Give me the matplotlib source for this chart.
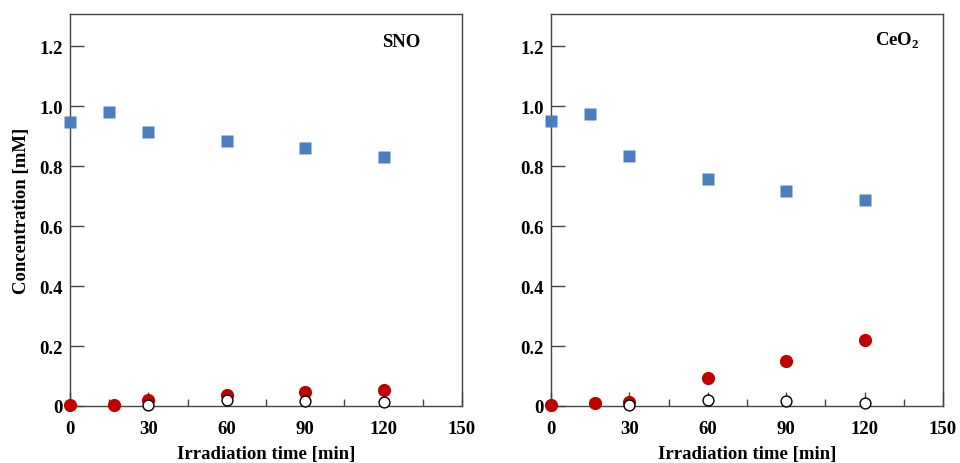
import matplotlib
matplotlib.use("Agg")
import matplotlib.pyplot as plt
from matplotlib.ticker import MultipleLocator

plt.rcParams.update({"font.family": ["Liberation Serif", "DejaVu Serif"],
                     "font.weight": "bold", "mathtext.fontset": "custom",
                     "mathtext.rm": "Liberation Serif", "mathtext.bf": "Liberation Serif:bold"})

# SNO panel
sno_sq_t = [0, 15, 30, 60, 90, 120]
sno_sq_c = [0.948, 0.979, 0.913, 0.882, 0.860, 0.830]
sno_red_t = [0, 17, 30, 60, 90, 120]
sno_red_c = [0.005, 0.005, 0.020, 0.037, 0.048, 0.053]
sno_open_t = [30, 60, 90, 120]
sno_open_c = [0.004, 0.019, 0.016, 0.014]

# CeO2 panel
ceo_sq_t = [0, 15, 30, 60, 90, 120]
ceo_sq_c = [0.950, 0.973, 0.833, 0.757, 0.717, 0.687]
ceo_red_t = [0, 17, 30, 60, 90, 120]
ceo_red_c = [0.005, 0.009, 0.014, 0.093, 0.150, 0.220]
ceo_open_t = [30, 60, 90, 120]
ceo_open_c = [0.004, 0.020, 0.017, 0.011]

panels = [
    ("SNO", (0.845, 0.931), sno_sq_t, sno_sq_c, sno_red_t, sno_red_c, sno_open_t, sno_open_c),
    (r"CeO$_\mathbf{2}$", (0.884, 0.935), ceo_sq_t, ceo_sq_c, ceo_red_t, ceo_red_c, ceo_open_t, ceo_open_c),
]

BLUE = "#4a7ebf"
RED = "#c00000"
AXC = "#444444"
FS = 13.5

fig = plt.figure(figsize=(9.6, 4.64), dpi=100)
lefts = [70 / 960, 551 / 960]
for (name, pos, st, sc, rt, rc, ot, oc), left in zip(panels, lefts):
    ax = fig.add_axes([left, 57 / 464, 392 / 960, 392 / 464])
    ax.plot(st, sc, "s", color=BLUE, ms=8.6, mec="none", clip_on=False, zorder=3)
    ax.plot(rt, rc, "o", color=RED, ms=9.5, mec="none", clip_on=False, zorder=4)
    ax.plot(ot, oc, "o", mfc="white", mec="black", mew=1.0, ms=7.8, clip_on=False, zorder=5)
    ax.set_xlim(0, 150)
    ax.set_ylim(0, 1.307)
    ax.xaxis.set_major_locator(MultipleLocator(30))
    ax.xaxis.set_minor_locator(MultipleLocator(15))
    ax.set_yticks([0, 0.2, 0.4, 0.6, 0.8, 1.0, 1.2])
    ax.set_yticklabels(["0", "0.2", "0.4", "0.6", "0.8", "1.0", "1.2"])
    ax.tick_params(axis="both", which="major", direction="in", length=10, width=1,
                   labelsize=FS, color=AXC)
    ax.tick_params(axis="x", which="major", pad=10)
    ax.tick_params(axis="y", which="major", pad=5)
    ax.tick_params(axis="x", which="minor", direction="in", length=5, width=1, color=AXC)
    for sp in ax.spines.values():
        sp.set_color(AXC)
        sp.set_linewidth(1.0)
    ax.set_xlabel("Irradiation time [min]", fontsize=FS, fontweight="bold", labelpad=5.5)
    if left < 0.5:
        ax.set_ylabel("Concentration [mM]", fontsize=FS, fontweight="bold", labelpad=7)
    ax.text(pos[0], pos[1], name, transform=ax.transAxes, ha="center", va="center",
            fontsize=FS, fontweight="bold")

fig.savefig("out.png", dpi=100)
